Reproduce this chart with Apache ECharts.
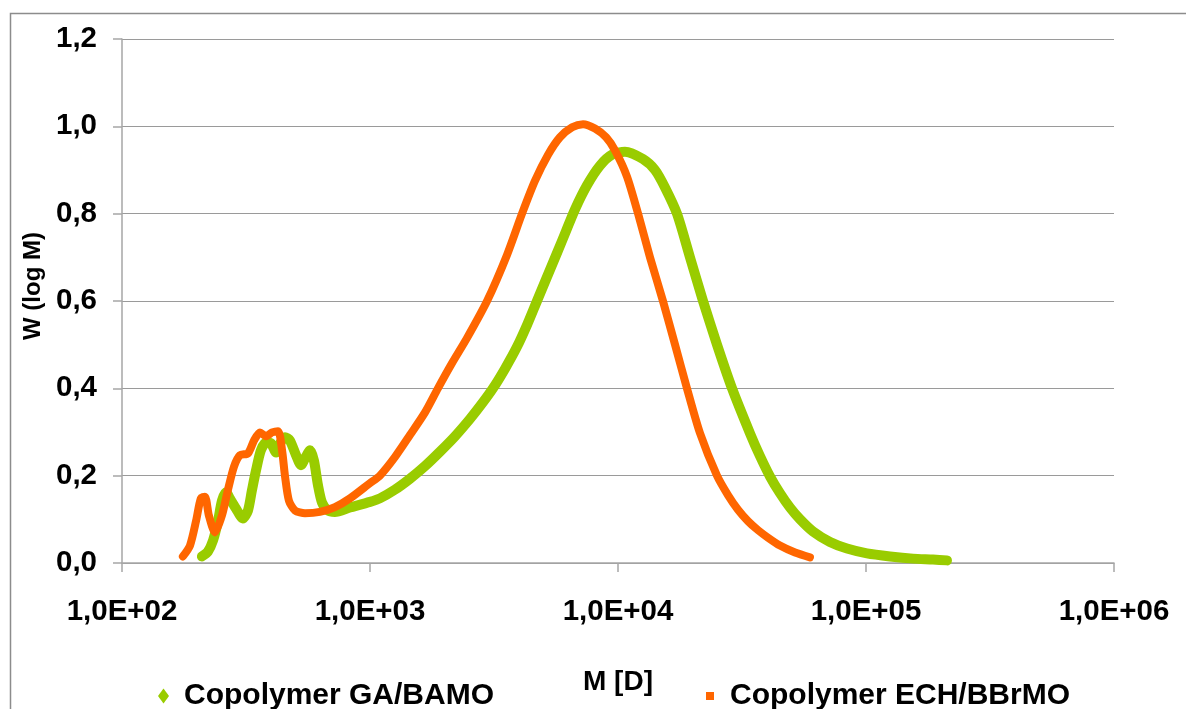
<!DOCTYPE html>
<html>
<head>
<meta charset="utf-8">
<title>Molecular weight distribution</title>
<script src="https://cdn.jsdelivr.net/npm/echarts@6/dist/echarts.min.js"></script>
<style>
  html, body { margin: 0; padding: 0; background: #ffffff; }
  #chart { width: 1186px; height: 709px; }
</style>
</head>
<body>
<div id="chart"></div>
<script>
// Molar mass M [D] and distribution W(log M) for each copolymer
const gaBamoM = [210, 222, 233, 244, 253, 263, 272, 288, 307, 322, 334, 347, 363, 381, 399, 418, 434, 454, 475, 503,
  527, 552, 573, 594, 617, 640, 677, 722, 830, 1000, 1096, 1261, 1449, 1667, 1916, 2201, 2531, 2829, 3133, 3503,
  3915, 4297, 4713, 5171, 5675, 6170, 6708, 7499, 8460, 9459, 10670, 12610, 14100, 15470, 17290, 19510, 22020,
  25070, 28820, 34060, 37360, 41030, 44990, 49370, 54200, 61140, 71580, 83820, 100900, 125000, 154700, 186300,
  212100];
const gaBamoW = [0.015, 0.026, 0.052, 0.097, 0.143, 0.162, 0.148, 0.125, 0.102, 0.12, 0.166, 0.212, 0.258, 0.276,
  0.274, 0.253, 0.274, 0.288, 0.281, 0.247, 0.224, 0.244, 0.258, 0.235, 0.178, 0.139, 0.12, 0.117, 0.127, 0.14,
  0.148, 0.168, 0.193, 0.222, 0.255, 0.29, 0.33, 0.365, 0.40, 0.445, 0.495, 0.545, 0.60, 0.655, 0.71, 0.76, 0.81,
  0.865, 0.91, 0.935, 0.942, 0.925, 0.90, 0.86, 0.80, 0.70, 0.60, 0.50, 0.40, 0.297, 0.245, 0.198, 0.16, 0.127,
  0.10, 0.072, 0.048, 0.033, 0.022, 0.015, 0.01, 0.008, 0.006];

const echBbrmoM = [176, 188, 199, 208, 216, 224, 237, 253, 267, 283, 299, 322, 341, 360, 381, 403, 426, 442, 454,
  471, 499, 547, 628, 722, 830, 1000, 1096, 1262, 1449, 1667, 1879, 2143, 2460, 2965, 3565, 4102, 4624, 5224,
  5834, 6531, 7228, 8076, 8954, 9727, 10870, 12050, 13460, 15180, 16980, 18970, 21420, 25070, 27800, 30480,
  33420, 36730, 40270, 44980, 51760, 59430];
const echBbrmoW = [0.015, 0.04, 0.097, 0.148, 0.152, 0.109, 0.07, 0.109, 0.166, 0.221, 0.247, 0.251, 0.281, 0.299,
  0.29, 0.299, 0.302, 0.258, 0.20, 0.143, 0.12, 0.114, 0.117, 0.128, 0.148, 0.183, 0.20, 0.243, 0.293, 0.345,
  0.40, 0.458, 0.515, 0.60, 0.705, 0.80, 0.875, 0.935, 0.975, 0.998, 1.005, 0.995, 0.975, 0.945, 0.885, 0.80,
  0.70, 0.60, 0.50, 0.40, 0.297, 0.20, 0.155, 0.122, 0.096, 0.075, 0.058, 0.04, 0.024, 0.013];

const seriesNames = ['Copolymer GA/BAMO', 'Copolymer ECH/BBrMO'];
const xTitle = 'M [D]';
const yTitle = 'W (log M)';

const pairs = (xs, ys) => xs.map((x, i) => [x, ys[i]]);

const FONT = '"Liberation Sans", Arial, sans-serif';
const GREEN = '#99cc00';
const ORANGE = '#ff6600';
const TICK_FONT = 29.5;
const LEGEND_FONT = 30;

const chart = echarts.init(document.getElementById('chart'), null, { renderer: 'canvas' });

chart.setOption({
  backgroundColor: '#ffffff',
  animation: false,
  textStyle: { fontFamily: FONT },
  graphic: [{
    type: 'rect',
    shape: { x: 10.5, y: 13.5, width: 1300, height: 900 },
    style: { fill: 'none', stroke: '#8c8c8c', lineWidth: 1.5 },
    silent: true,
    z: -10
  }],
  grid: { left: 122, right: 72, top: 39, bottom: 146, containLabel: false },
  legend: [{
    data: [seriesNames[0]],
    left: 158, top: 681, padding: 0,
    icon: 'diamond', itemWidth: 11, itemHeight: 15,
    textStyle: { fontFamily: FONT, fontSize: LEGEND_FONT, fontWeight: 'bold', color: '#000', padding: [0, 0, 0, 10] }
  }, {
    data: [seriesNames[1]],
    left: 706, top: 681, padding: 0,
    icon: 'rect', itemWidth: 8, itemHeight: 8,
    textStyle: { fontFamily: FONT, fontSize: LEGEND_FONT, fontWeight: 'bold', color: '#000', padding: [0, 0, 0, 11] }
  }],
  xAxis: {
    type: 'log', logBase: 10, min: 100, max: 1000000,
    name: xTitle, nameLocation: 'middle', nameGap: 105,
    nameTextStyle: { fontFamily: FONT, fontSize: 28, fontWeight: 'bold', color: '#000' },
    axisLine: { show: true, lineStyle: { color: '#a6a6a6', width: 1.5 } },
    axisTick: { show: true, length: 9, lineStyle: { color: '#a6a6a6', width: 1.5 } },
    splitLine: { show: false },
    minorTick: { show: false },
    axisLabel: {
      margin: 34,
      fontFamily: FONT, fontSize: TICK_FONT, fontWeight: 'bold', color: '#000',
      formatter: v => {
        const e = Math.round(Math.log10(v));
        return '1,0E+' + String(e).padStart(2, '0');
      }
    }
  },
  yAxis: {
    type: 'value', min: 0, max: 1.2, interval: 0.2,
    name: yTitle, nameLocation: 'middle', nameGap: 77, nameRotate: 90,
    nameTextStyle: { fontFamily: FONT, fontSize: 24, fontWeight: 'bold', color: '#000', padding: [0, 0, 0, 30] },
    axisLine: { show: true, lineStyle: { color: '#a6a6a6', width: 1.5 } },
    axisTick: { show: true, length: 9, lineStyle: { color: '#a6a6a6', width: 1.5 } },
    splitLine: { show: true, lineStyle: { color: '#9a9a9a', width: 1.2 } },
    axisLabel: {
      margin: 25,
      fontFamily: FONT, fontSize: TICK_FONT, fontWeight: 'bold', color: '#000',
      formatter: v => v.toFixed(1).replace('.', ',')
    }
  },
  series: [{
    name: seriesNames[0], type: 'line',
    data: pairs(gaBamoM, gaBamoW),
    smooth: 0.25, showSymbol: false, symbol: 'diamond',
    itemStyle: { color: GREEN },
    lineStyle: { color: GREEN, width: 10, cap: 'round', join: 'round' },
    z: 2
  }, {
    name: seriesNames[1], type: 'line',
    data: pairs(echBbrmoM, echBbrmoW),
    smooth: 0.25, showSymbol: false, symbol: 'rect',
    itemStyle: { color: ORANGE },
    lineStyle: { color: ORANGE, width: 8, cap: 'round', join: 'round' },
    z: 3
  }]
});
</script>
</body>
</html>
